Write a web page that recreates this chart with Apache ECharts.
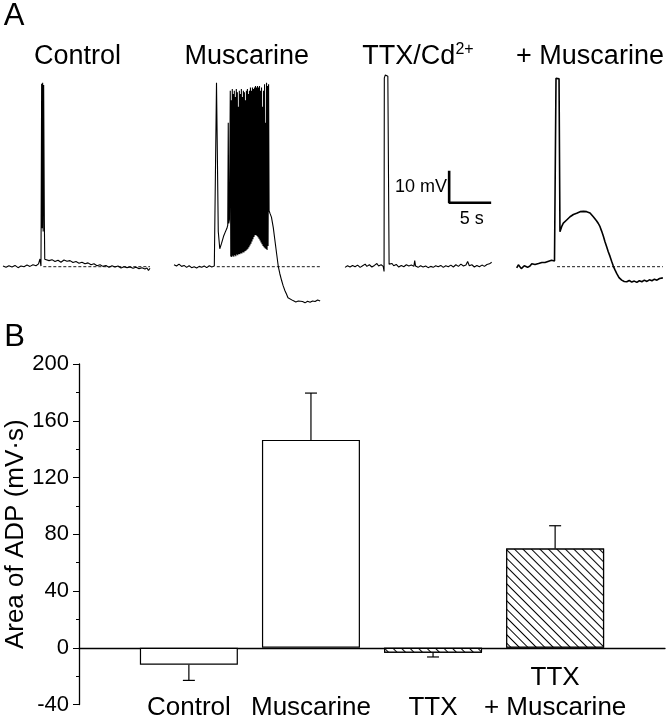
<!DOCTYPE html>
<html>
<head>
<meta charset="utf-8">
<script src="https://cdn.jsdelivr.net/npm/echarts@6/dist/echarts.min.js"></script>
<style>
  html, body { margin: 0; padding: 0; background: #fff; }
  #fig { width: 667px; height: 720px; }
</style>
</head>
<body>
<div id="fig"></div>
<script>
// ---- panel A: membrane potential traces, [time (s), mV from baseline] ----
var traceControl = [
  [0, 0.2], [0.36, -0.2], [0.71, 0.3], [1.07, -0.1], [1.43, 0.4], [1.79, -0.3], [2.14, 0.2], [2.5, 0.0],
  [2.86, 0.5], [3.21, 0.1], [3.57, 0.6], [3.93, 0.3], [4.23, 0.9], [4.4, 2.4], [4.52, 0.2],
  [4.6, 57.2], [4.66, 12], [4.72, 57.5], [4.78, 11], [4.84, 56.8], [4.92, 15], [4.97, 2.3],
  [5.12, 2.6], [5.48, 1.9], [5.83, 2.2], [6.19, 1.6], [6.55, 2.0], [6.9, 1.4], [7.26, 2.1], [7.62, 1.7],
  [7.98, 1.9], [8.33, 1.3], [8.69, 1.6], [9.05, 1.1], [9.4, 1.4], [9.76, 0.9], [10.12, 1.2], [10.48, 0.6],
  [10.83, 0.9], [11.19, 0.3], [11.55, 0.6], [11.9, 0.1], [12.26, 0.4], [12.62, -0.2], [12.98, 0.3],
  [13.33, -0.1], [13.69, 0.2], [14.05, -0.4], [14.4, 0.0], [14.76, -0.3], [15.12, -0.1], [15.48, -0.5],
  [15.83, -0.2], [16.19, -0.6], [16.55, -0.3], [16.9, -0.7], [17.14, -0.4], [17.32, -1.2], [17.5, -0.5]
];

var traceMuscarine = [
  [0, 0.6], [0.3, 0.2], [0.6, 0.8], [0.9, 0.1], [1.2, 0.4], [1.5, -0.2], [1.8, 0.3], [2.1, -0.3],
  [2.4, 0.0], [2.7, -0.4], [3.0, 0.1], [3.3, -0.2], [3.6, 0.2], [3.9, -0.3], [4.2, 0.3], [4.5, -0.1],
  [4.8, 0.2], [5.0, -0.4], [5.06, 57.5], [5.2, 57.8], [5.27, 11], [5.45, 5.6], [5.65, 7.2], [5.9, 9.5],
  [6.1, 10.8], [6.3, 12.0], [6.4, 13], [6.46, 45], [6.52, 13.5], [6.6, 14.8],
  // burst of spikes
  [6.70, 55], [6.76, 3.2], [6.82, 52], [6.88, 3.0], [6.94, 55.5], [7.00, 3.4], [7.06, 54], [7.12, 3.1],
  [7.18, 55], [7.24, 3.6], [7.30, 53], [7.36, 3.3], [7.42, 55.5], [7.48, 3.8], [7.54, 54.5], [7.60, 3.6],
  [7.66, 50], [7.72, 4.0], [7.78, 55], [7.84, 3.9], [7.90, 54], [7.96, 4.2], [8.02, 55.5], [8.08, 4.1],
  [8.14, 53], [8.20, 4.5], [8.26, 55], [8.32, 4.4], [8.38, 54.5], [8.44, 4.8], [8.50, 52], [8.56, 5.0],
  [8.62, 55], [8.68, 5.3], [8.74, 55.5], [8.80, 5.6], [8.86, 54], [8.92, 6.1], [8.98, 55], [9.04, 6.6],
  [9.10, 56], [9.16, 7.2], [9.22, 55], [9.28, 7.9], [9.34, 56], [9.40, 8.6], [9.46, 55.5], [9.52, 9.3],
  [9.58, 56], [9.64, 9.8], [9.70, 56.5], [9.76, 9.9], [9.82, 56], [9.88, 9.6], [9.94, 56.5], [10.00, 9.2],
  [10.06, 56], [10.12, 8.7], [10.18, 56.5], [10.24, 8.2], [10.30, 55], [10.36, 7.6], [10.42, 56], [10.48, 7.0],
  [10.54, 50], [10.60, 6.5], [10.66, 55], [10.72, 6.1], [10.78, 57], [10.84, 5.8], [10.90, 45], [10.96, 5.5],
  [11.02, 57.5], [11.08, 5.2], [11.14, 56.5], [11.20, 6.5], [11.26, 57], [11.32, 17.5],
  // after-hyperpolarisation
  [11.45, 16.5], [11.6, 15.5], [11.82, 12.2], [12.0, 8.5], [12.23, 3.8], [12.42, 0.0], [12.6, -2.2],
  [12.82, -4.4], [13.0, -6.0], [13.21, -7.5], [13.4, -8.6], [13.57, -9.7], [13.8, -10.2], [14.17, -10.6],
  [14.5, -11.0], [14.8, -10.7], [15.0, -11.2], [15.3, -10.9], [15.6, -11.3], [15.9, -10.8], [16.2, -11.1],
  [16.5, -10.7], [16.8, -10.9], [17.1, -10.4], [17.4, -10.7]
];

var traceTTX = [
  [0, -0.2], [0.3, 0.3], [0.6, -0.1], [0.9, 0.4], [1.2, 0.0], [1.5, 0.5], [1.8, -0.2], [2.1, 0.3],
  [2.4, 0.8], [2.6, 0.1], [2.9, 0.6], [3.2, -0.1], [3.5, 0.4], [3.8, 1.0], [4.0, 0.2], [4.3, 0.6],
  [4.55, 0.1], [4.65, -1.5], [4.68, 59.0], [4.8, 59.9], [5.1, 59.5], [5.25, 0.8], [5.35, 0.4],
  [5.6, 1.0], [5.8, 0.3], [6.1, 0.7], [6.4, -0.1], [6.7, 0.4], [7.0, 0.0], [7.3, 0.6], [7.6, 0.2],
  [7.9, 0.5], [8.2, 0.1], [8.3, 1.9], [8.4, 0.2], [8.7, -0.2], [9.0, 0.3], [9.3, -0.1], [9.6, 0.2],
  [9.9, -0.3], [10.2, 0.1], [10.5, -0.2], [10.8, 0.3], [11.1, 0.0], [11.4, 0.4], [11.7, -0.2], [12.0, 0.3],
  [12.3, 0.0], [12.6, 0.5], [12.9, -0.1], [13.2, 0.6], [13.5, 0.1], [13.8, 0.8], [14.1, 0.2], [14.4, 0.5],
  [14.6, 1.6], [14.8, 0.3], [15.1, 0.6], [15.4, -0.1], [15.7, 0.4], [16.0, 0.0], [16.3, 0.5], [16.6, 0.1],
  [16.9, 0.7], [17.2, 0.9], [17.46, 1.4]
];

var traceTTXMusc = [
  [0, -0.4], [0.2, 0.6], [0.39, 0.8], [0.55, -0.6], [0.75, -1.0], [0.9, 0.3], [1.11, 0.5], [1.3, -0.2],
  [1.58, 0.2], [1.8, 0.9], [2.0, 0.3], [2.18, 0.7], [2.4, 0.4], [2.6, 1.0], [2.77, 0.8], [3.0, 1.3],
  [3.2, 0.9], [3.37, 1.3], [3.6, 1.1], [3.8, 1.7], [3.96, 1.5], [4.15, 2.0], [4.32, 2.1], [4.5, 1.8],
  [4.62, 2.3], [4.68, 58.9], [4.86, 59.1], [5.04, 58.7], [5.15, 10.9], [5.35, 12.5], [5.55, 13.6],
  [5.75, 14.0], [5.95, 14.6], [6.15, 15.0], [6.35, 15.6], [6.55, 16.0], [6.75, 16.3], [6.95, 16.5],
  [7.14, 16.7], [7.35, 16.9], [7.55, 17.2], [7.74, 17.1], [7.95, 17.3], [8.15, 17.0], [8.33, 17.2],
  [8.55, 16.9], [8.73, 16.8], [8.95, 16.2], [9.12, 15.6], [9.32, 15.0], [9.52, 14.3], [9.72, 13.5],
  [9.92, 12.5], [10.1, 11.2], [10.31, 9.6], [10.5, 7.9], [10.71, 6.2], [10.9, 4.7], [11.1, 3.3],
  [11.3, 1.7], [11.5, 0.2], [11.7, -1.0], [11.9, -2.1], [12.18, -3.4], [12.5, -4.2], [12.8, -4.6],
  [13.1, -4.7], [13.4, -4.3], [13.7, -4.8], [14.0, -4.5], [14.3, -4.9], [14.6, -4.4], [14.9, -4.7],
  [15.2, -4.2], [15.5, -4.6], [15.8, -4.1], [16.1, -4.4], [16.4, -3.9], [16.7, -4.2], [17.0, -3.7],
  [17.2, -4.0], [17.4, -3.5]
];

// dashed baseline references [start s, end s]
var baseControl = [4.8, 17.5];
var baseMuscarine = [5.1, 17.4];
var baseTTXMusc = [4.8, 17.4];

// scale bar: 10 mV, 5 s
var scaleBar = [[12.4, 30], [12.4, 20], [17.4, 20]];

// ---- panel B: area of ADP (mV·s) ----
var categories = ['Control', 'Muscarine', 'TTX', 'TTX\n+ Muscarine'];
var adpMean = [-12, 146.5, -3.5, 70];
var adpSem = [11, 33, 3, 16];
var hatched = [false, false, true, true];
var yTicks = { min: -40, max: 200, step: 40 };

var FONT = '"Liberation Sans", Arial, Helvetica, sans-serif';

// trace grids share the same mV / s scale (3.2 px per mV, 8.4 px per s)
var traceLefts = [3, 174, 345, 516.7];
var grids = [], xAxes = [], yAxes = [];
traceLefts.forEach(function (l) {
  grids.push({ left: l, top: 68.3, width: 151.2, height: 246.4, outerBoundsMode: 'none', containLabel: false });
  xAxes.push({ type: 'value', gridIndex: grids.length - 1, min: 0, max: 18, show: false });
  yAxes.push({ type: 'value', gridIndex: grids.length - 1, min: -15, max: 62, show: false });
});
// bar chart grid
grids.push({ left: 79, right: 2, top: 364, bottom: 15.5, outerBoundsMode: 'none', containLabel: false });
xAxes.push({
  type: 'value', gridIndex: 4, min: 0.1, max: 4.9,
  axisLine: { show: true, onZero: true, lineStyle: { color: '#000', width: 1.3 } },
  axisTick: { show: false },
  splitLine: { show: false },
  axisLabel: {
    customValues: [1, 2, 3, 4],
    formatter: function (v) {
      var lab = categories[Math.round(v) - 1] || '';
      // labels share a bottom line: one-line labels start one line lower
      return lab.indexOf('\n') < 0 ? '\n' + lab : lab;
    },
    hideOverlap: false, showMinLabel: true, showMaxLabel: true,
    color: '#000', fontSize: 26, fontFamily: FONT, lineHeight: 30,
    margin: -42
  }
});
yAxes.push({
  type: 'value', gridIndex: 4, min: yTicks.min, max: yTicks.max, interval: yTicks.step,
  name: 'Area of ADP (mV·s)', nameLocation: 'middle', nameGap: 50, nameMoveOverlap: false,
  nameTextStyle: { color: '#000', fontSize: 26, fontFamily: FONT },
  axisLine: { show: true, lineStyle: { color: '#000', width: 1.3 } },
  axisTick: { show: true, length: 6, lineStyle: { color: '#000', width: 1 } },
  minorTick: { show: true, splitNumber: 2, length: 3, lineStyle: { color: '#000', width: 1 } },
  splitLine: { show: false },
  axisLabel: { color: '#000', fontSize: 22, fontFamily: FONT, margin: 10 }
});

function traceSeries(data, idx, width) {
  return {
    type: 'line', xAxisIndex: idx, yAxisIndex: idx, data: data, showSymbol: false, clip: false,
    lineStyle: { color: '#000', width: width }, silent: true
  };
}
function dashSeries(range, idx) {
  return {
    type: 'line', xAxisIndex: idx, yAxisIndex: idx, showSymbol: false, clip: false, z: 1,
    data: [[range[0], 0], [range[1], 0]],
    lineStyle: { color: '#000', width: 0.9, type: [3, 2] }, silent: true
  };
}

var hatchDecal = {
  symbol: 'rect', symbolSize: 1, color: '#000', backgroundColor: '#fff',
  dashArrayX: [1, 0], dashArrayY: [1, 5], rotation: Math.PI / 4
};

var barData = adpMean.map(function (v, i) {
  var item = { value: [i + 1, v] };
  if (hatched[i]) item.itemStyle = { decal: hatchDecal };
  return item;
});
var errData = adpMean.map(function (v, i) { return [i + 1, v, adpSem[i]]; });

var chart = echarts.init(document.getElementById('fig'), null, { renderer: 'canvas' });
chart.setOption({
  animation: false,
  backgroundColor: '#fff',
  aria: { enabled: false },
  grid: grids,
  xAxis: xAxes,
  yAxis: yAxes,
  graphic: [
    { type: 'text', x: 14, y: 16, style: { text: 'A', font: '31px ' + FONT, fill: '#000', align: 'center', verticalAlign: 'middle' } },
    { type: 'text', x: 14.5, y: 337, style: { text: 'B', font: '31px ' + FONT, fill: '#000', align: 'center', verticalAlign: 'middle' } },
    { type: 'text', x: 77.5, y: 57, style: { text: 'Control', font: '27px ' + FONT, fill: '#000', align: 'center', verticalAlign: 'middle' } },
    { type: 'text', x: 246.7, y: 57, style: { text: 'Muscarine', font: '27px ' + FONT, fill: '#000', align: 'center', verticalAlign: 'middle' } },
    { type: 'text', x: 418, y: 57, style: {
        text: '{m|TTX/Cd}{s|2+}', align: 'center', verticalAlign: 'middle',
        rich: {
          m: { fontSize: 27, fontFamily: FONT, fill: '#000', color: '#000', lineHeight: 30 },
          s: { fontSize: 16, fontFamily: FONT, fill: '#000', color: '#000', verticalAlign: 'top', lineHeight: 30, padding: [0, 0, 12, 0] }
        } } },
    { type: 'text', x: 590, y: 57, style: { text: '+ Muscarine', font: '27px ' + FONT, fill: '#000', align: 'center', verticalAlign: 'middle' } },
    { type: 'text', x: 447, y: 187, style: { text: '10 mV', font: '18px ' + FONT, fill: '#000', align: 'right', verticalAlign: 'middle' } },
    { type: 'text', x: 471.7, y: 219, style: { text: '5 s', font: '18px ' + FONT, fill: '#000', align: 'center', verticalAlign: 'middle' } }
  ],
  series: [
    dashSeries(baseControl, 0),
    dashSeries(baseMuscarine, 1),
    dashSeries(baseTTXMusc, 3),
    traceSeries(traceControl, 0, 1.1),
    traceSeries(traceMuscarine, 1, 1.1),
    traceSeries(traceTTX, 2, 1.1),
    traceSeries(traceTTXMusc, 3, 1.6),
    {
      type: 'line', xAxisIndex: 2, yAxisIndex: 2, data: scaleBar, showSymbol: false, clip: false,
      lineStyle: { color: '#000', width: 2.6 }, silent: true
    },
    {
      type: 'bar', xAxisIndex: 4, yAxisIndex: 4, data: barData, barWidth: 98,
      itemStyle: { color: '#fff', borderColor: '#000', borderWidth: 1.2 },
      silent: true
    },
    {
      type: 'custom', xAxisIndex: 4, yAxisIndex: 4, data: errData, silent: true, z: 3,
      renderItem: function (params, api) {
        var x = api.value(0), m = api.value(1), e = api.value(2);
        var tip = m >= 0 ? m + e : m - e;
        var p0 = api.coord([x, m]);
        var p1 = api.coord([x, tip]);
        var cap = 6;
        return {
          type: 'group',
          children: [
            { type: 'line', shape: { x1: p0[0], y1: p0[1], x2: p1[0], y2: p1[1] }, style: { stroke: '#000', lineWidth: 1.2 } },
            { type: 'line', shape: { x1: p1[0] - cap, y1: p1[1], x2: p1[0] + cap, y2: p1[1] }, style: { stroke: '#000', lineWidth: 1.2 } }
          ]
        };
      }
    }
  ]
});
</script>
</body>
</html>
